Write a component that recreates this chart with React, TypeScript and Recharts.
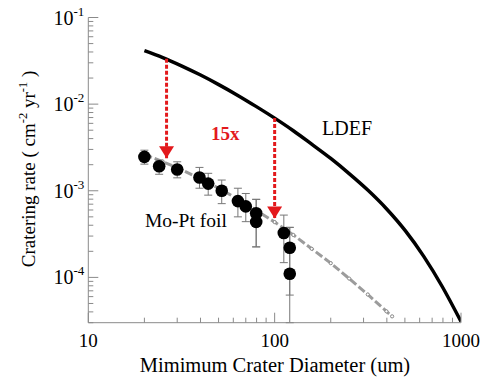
import { ComposedChart, Line, Scatter, ErrorBar, XAxis, YAxis } from 'recharts';

// LDEF flux curve
const ldefDiameter = [20, 25.1, 31.6, 39.8, 50.1, 63.1, 79.4, 100, 126, 158, 200, 251, 316, 398, 501, 631, 794, 1000];
const ldefRate = [0.0414, 0.0345, 0.0277, 0.0218, 0.0168, 0.0127, 0.00942, 0.00689, 0.00493, 0.00345, 0.00236, 0.00158, 0.00102, 6.21e-4, 3.49e-4, 1.75e-4, 7.8e-5, 3.09e-5];

// gray dashed fit through the foil data
const fitDiameter = [20, 25.1, 31.6, 39.8, 50.1, 63.1, 79.4, 100, 126, 158, 200, 251, 316, 398, 427];
const fitRate = [2.63e-3, 2.17e-3, 1.75e-3, 1.38e-3, 1.07e-3, 8.07e-4, 5.97e-4, 4.35e-4, 3.09e-4, 2.14e-4, 1.46e-4, 9.7e-5, 6.35e-5, 4.06e-5, 3.55e-5];

// Mo-Pt foil measurements
const foilDiameter = [20, 24, 30, 39.5, 44, 52, 63.5, 70, 79.6, 79.6, 112, 120.5, 120.5];
const foilRate = [2.46e-3, 1.92e-3, 1.76e-3, 1.42e-3, 1.21e-3, 1.0e-3, 7.6e-4, 6.6e-4, 5.5e-4, 4.37e-4, 3.25e-4, 2.2e-4, 1.1e-4];
const foilHigh = [2.94e-3, 2.26e-3, 2.16e-3, 1.86e-3, 1.59e-3, 1.33e-3, 1.07e-3, 9.3e-4, 7.96e-4, 7.96e-4, 5.24e-4, 3.78e-4, 3.78e-4];
const foilLow = [2.03e-3, 1.55e-3, 1.41e-3, 1.07e-3, 8.9e-4, 7.1e-4, 5.0e-4, 4.4e-4, 2.25e-4, 2.25e-4, 1.48e-4, 6.25e-5, 3.0e-5];

// red arrows (from LDEF down to the fit)
const arrowDiameter = [26.3, 100];
const arrowTop = [0.0335, 0.0069];
const arrowTip = [2.37e-3, 4.8e-4];

const xTicks = [10, 20, 30, 40, 50, 60, 70, 80, 90, 100, 200, 300, 400, 500, 600, 700, 800, 900, 1000];
const yTicks = [
  3e-5, 4e-5, 5e-5, 6e-5, 7e-5, 8e-5, 9e-5,
  1e-4, 2e-4, 3e-4, 4e-4, 5e-4, 6e-4, 7e-4, 8e-4, 9e-4,
  1e-3, 2e-3, 3e-3, 4e-3, 5e-3, 6e-3, 7e-3, 8e-3, 9e-3,
  1e-2, 2e-2, 3e-2, 4e-2, 5e-2, 6e-2, 7e-2, 8e-2, 9e-2,
  1e-1,
];

const ldefData = ldefDiameter.map((x, i) => ({ x, y: ldefRate[i] }));
const fitData = fitDiameter.map((x, i) => ({ x, y: fitRate[i] }));
const foilData = foilDiameter.map((x, i) => ({
  x,
  y: foilRate[i],
  err: [foilRate[i] - foilLow[i], foilHigh[i] - foilRate[i]],
}));
const arrows = arrowDiameter.map((x, i) => [
  { x, y: arrowTop[i] },
  { x, y: arrowTip[i] },
]);

const FONT = '"Liberation Serif", "Times New Roman", serif';
const AXIS = '#8a8a8a';
const RED = '#e3191c';

const isMajor = (v: number) => {
  const l = Math.log10(v);
  return Math.abs(l - Math.round(l)) < 1e-6;
};

function makeTick(side: 'bottom' | 'top' | 'left' | 'right') {
  return (props: any) => {
    const { x, y, payload } = props;
    const v = payload.value;
    const major = isMajor(v);
    const len = major ? 10 : 5;
    if (side === 'bottom') {
      return (
        <g>
          <line x1={x} y1={y} x2={x} y2={y - len} stroke={AXIS} />
          {major && (
            <text x={x} y={y + 24} textAnchor="middle" fontSize={19} fontFamily={FONT} fill="#000">
              {v}
            </text>
          )}
        </g>
      );
    }
    if (side === 'top') return <line x1={x} y1={y} x2={x} y2={y + len} stroke={AXIS} />;
    if (side === 'right') return <line x1={x} y1={y} x2={x - len} y2={y} stroke={AXIS} />;
    const exp = Math.round(Math.log10(v));
    return (
      <g>
        <line x1={x} y1={y} x2={x + len} y2={y} stroke={AXIS} />
        {major && (
          <text x={x - 4} y={y + 7} textAnchor="end" fontFamily={FONT} fill="#000">
            <tspan fontSize={20}>10</tspan>
            <tspan fontSize={13} dy={-9}>{exp}</tspan>
          </text>
        )}
      </g>
    );
  };
}

const arrowHead = (props: any) => {
  const { cx, cy, index } = props;
  if (index !== 1) return <g key={`a${index}`} />;
  return (
    <polygon
      key={`a${index}`}
      points={`${cx - 7.5},${cy - 12} ${cx + 7.5},${cy - 12} ${cx},${cy}`}
      fill={RED}
    />
  );
};

const fitDot = (props: any) => (
  <circle key={`f${props.index}`} cx={props.cx} cy={props.cy} r={1.6} fill="#fff" stroke="#888" strokeWidth={1} />
);

export default function App() {
  return (
    <div style={{ position: 'absolute', left: 0, top: 0, width: 485, height: 377, background: '#fff' }}>
      <ComposedChart width={485} height={377} margin={{ top: 17.5, right: 24, bottom: 0, left: 0 }}>
        <XAxis
          dataKey="x"
          type="number"
          scale="log"
          domain={[10, 1000]}
          allowDataOverflow
          ticks={xTicks}
          interval={0}
          tickSize={0}
          tickMargin={0}
          tickLine={false}
          height={54.3}
          axisLine={{ stroke: AXIS }}
          tick={makeTick('bottom')}
        />
        <XAxis
          xAxisId="top"
          dataKey="x"
          orientation="top"
          type="number"
          scale="log"
          domain={[10, 1000]}
          allowDataOverflow
          ticks={xTicks}
          interval={0}
          tickSize={0}
          tickMargin={0}
          tickLine={false}
          height={0}
          axisLine={{ stroke: AXIS }}
          tick={makeTick('top')}
        />
        <YAxis
          type="number"
          scale="log"
          domain={[3e-5, 0.1]}
          allowDataOverflow
          ticks={yTicks}
          interval={0}
          tickSize={0}
          tickMargin={0}
          tickLine={false}
          width={88.3}
          axisLine={{ stroke: AXIS }}
          tick={makeTick('left')}
        />
        <YAxis
          yAxisId="right"
          orientation="right"
          type="number"
          scale="log"
          domain={[3e-5, 0.1]}
          allowDataOverflow
          ticks={yTicks}
          interval={0}
          tickSize={0}
          tickMargin={0}
          tickLine={false}
          width={0}
          axisLine={{ stroke: AXIS }}
          tick={makeTick('right')}
        />
        <Line
          data={ldefData}
          dataKey="y"
          type="monotone"
          stroke="#000"
          strokeWidth={3.5}
          dot={false}
          isAnimationActive={false}
        />
        <Line
          data={fitData}
          dataKey="y"
          type="linear"
          stroke="#9c9c9c"
          strokeWidth={3}
          strokeDasharray="8 3"
          dot={fitDot}
          isAnimationActive={false}
        />
        {arrows.map((a, i) => (
          <Line
            key={i}
            data={a}
            dataKey="y"
            type="linear"
            stroke={RED}
            strokeWidth={3}
            strokeDasharray="4 2"
            dot={arrowHead}
            isAnimationActive={false}
          />
        ))}
        <Scatter
          data={foilData}
          dataKey="y"
          fill="#000"
          isAnimationActive={false}
          shape={(p: any) => <circle cx={p.cx} cy={p.cy} r={6.3} fill="#000" />}
        >
          <ErrorBar dataKey="err" direction="y" width={4} stroke="#777" strokeWidth={1} />
        </Scatter>
      </ComposedChart>
      <svg
        width={485}
        height={377}
        style={{ position: 'absolute', left: 0, top: 0, pointerEvents: 'none' }}
        fontFamily={FONT}
      >
        <text x={322} y={135} fontSize={20} fill="#000">LDEF</text>
        <text x={145} y={227} fontSize={19.5} fill="#000">Mo-Pt foil</text>
        <text x={211} y={140} fontSize={19} fontWeight="bold" fill={RED}>15x</text>
        <text x={275} y={372} fontSize={20.5} textAnchor="middle" fill="#000">
          Mimimum Crater Diameter (um)
        </text>
        <text transform="translate(35,169) rotate(-90)" fontSize={19} textAnchor="middle" fill="#000">
          <tspan>Cratering rate ( cm</tspan>
          <tspan fontSize={12.5} dy={-8}>-2</tspan>
          <tspan dy={8}> yr</tspan>
          <tspan fontSize={12.5} dy={-8}>-1</tspan>
          <tspan dy={8}> )</tspan>
        </text>
      </svg>
    </div>
  );
}
